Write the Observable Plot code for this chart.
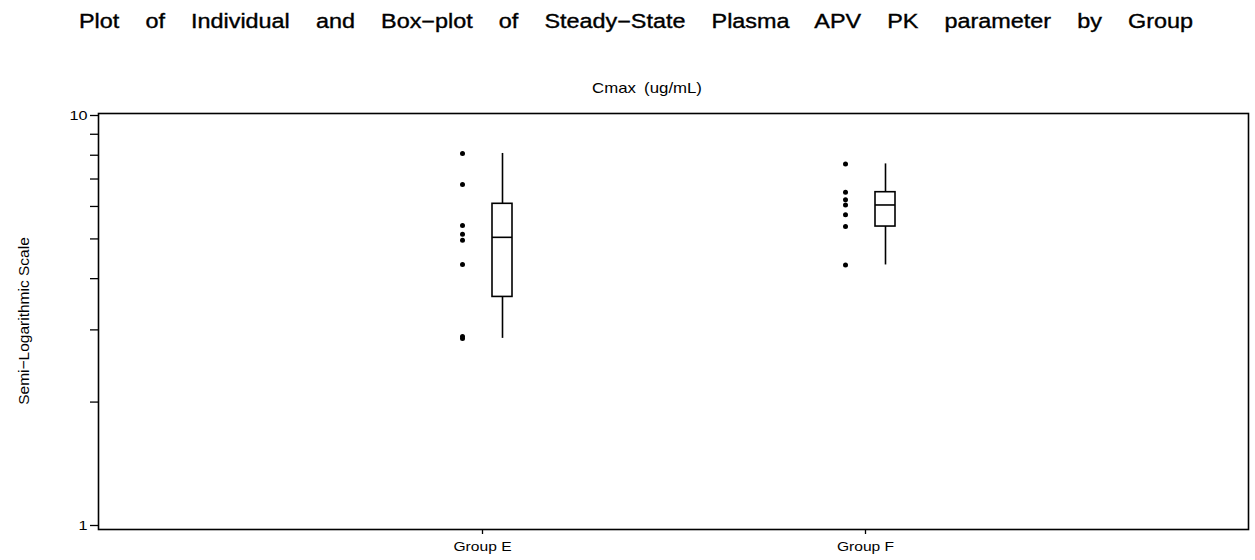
<!DOCTYPE html>
<html>
<head>
<meta charset="utf-8">
<script src="https://cdn.jsdelivr.net/npm/d3@7"></script>
<script src="https://cdn.jsdelivr.net/npm/@observablehq/plot@0.6"></script>
<style>
  html, body { margin: 0; padding: 0; background: white; }
  svg { display: block; }
</style>
</head>
<body>
<div id="chart"></div>
<script>
// ---- Data ----
const groups = ["Group E", "Group F"];
const cmaxGroupE = [8.08, 6.79, 5.39, 5.13, 4.96, 4.33, 2.89, 2.86];
const cmaxGroupF = [7.62, 6.50, 6.23, 6.05, 5.73, 5.36, 4.32];
const yTickValues = [1, 2, 3, 4, 5, 6, 7, 8, 9, 10];
const yTickLabels = [1, 10];

const titleText = "Plot of Individual and Box\u2212plot of Steady\u2212State Plasma APV PK parameter by Group";
const subtitleText = "Cmax (ug/mL)";
const yLabelText = "Semi\u2212Logarithmic Scale";

// ---- Derived tables ----
const seriesByGroup = [cmaxGroupE, cmaxGroupF];
const points = groups.flatMap((g, i) => seriesByGroup[i].map(v => ({group: g, value: v})));

// SAS default percentile definition (PCTLDEF=5)
function sasQuantile(sorted, p) {
  const n = sorted.length, np = n * p, j = Math.floor(np), g = np - j;
  if (g === 0) return (sorted[j - 1] + sorted[j]) / 2;
  return sorted[j];
}
const stats = groups.map((g, i) => {
  const s = seriesByGroup[i].slice().sort((a, b) => a - b);
  return {
    group: g,
    min: s[0],
    q1: sasQuantile(s, 0.25),
    median: sasQuantile(s, 0.5),
    q3: sasQuantile(s, 0.75),
    max: s[s.length - 1]
  };
});

const FONT = "'Liberation Sans', Arial, Helvetica, sans-serif";
const STRETCH = 1.2; // the reference is drawn with horizontally widened glyphs

const chart = Plot.plot({
  width: 1255,
  height: 560,
  marginTop: 113,
  marginBottom: 31,
  marginLeft: 98,
  marginRight: 7,
  style: {fontFamily: FONT, fontSize: "13px", color: "black", background: "white"},
  x: {type: "band", domain: groups, paddingInner: 0.948, paddingOuter: 0.974, label: null},
  y: {type: "log", domain: [1, 10], insetTop: 2, insetBottom: 4, label: null},
  marks: [
    Plot.frame({stroke: "black", strokeWidth: 1.6}),
    Plot.axisY({ticks: yTickValues, tickSize: 8, tickPadding: 3, fontSize: 13.5,
      tickFormat: d => yTickLabels.includes(d) ? String(d) : "", label: null, strokeWidth: 1.3}),
    Plot.axisX({tickSize: 5, tickPadding: 7, label: null, strokeWidth: 1.3}),
    Plot.ruleX(stats, {x: "group", y1: "min", y2: "max", dx: 20, stroke: "black", strokeWidth: 1.6}),
    Plot.barY(stats, {x: "group", y1: "q1", y2: "q3", dx: 20, fill: "white", stroke: "black", strokeWidth: 1.6}),
    Plot.tickY(stats, {x: "group", y: "median", dx: 20, stroke: "black", strokeWidth: 1.6}),
    Plot.dot(points, {x: "group", y: "value", dx: -20, r: 2.5, fill: "black", stroke: null})
  ]
});

document.getElementById("chart").appendChild(chart);

// Stretch axis tick labels horizontally, like the reference's wide Helvetica
d3.select(chart).selectAll("g[aria-label$='tick label'] text").each(function() {
  const t = this.getAttribute("transform");
  if (t) this.setAttribute("transform", t + ` scale(${STRETCH},1)`);
});

// Title, subtitle and y-axis label
const svg = d3.select(chart);
function addLabel(content, cx, cy, size, target, stretch, rotate, heavy) {
  const el = svg.append("text")
    .attr("text-anchor", "middle")
    .attr("dominant-baseline", "central")
    .attr("font-family", FONT)
    .attr("font-size", size)
    .attr("fill", "black")
    .text(content);
  if (heavy) el.attr("stroke", "black").attr("stroke-width", heavy);
  const w = el.node().getComputedTextLength();
  const spaces = (content.match(/ /g) || []).length;
  const ws = spaces > 0 ? Math.max(0, (target / stretch - w) / spaces) : 0;
  el.style("word-spacing", ws + "px");
  el.attr("transform", `translate(${cx},${cy})${rotate ? ` rotate(${rotate})` : ""} scale(${stretch},1)`);
  return el;
}
addLabel(titleText, 636, 21.5, 19.5, 1115, STRETCH, 0, 0.35);
addLabel(subtitleText, 647, 88, 14, 110, STRETCH, 0, 0);
addLabel(yLabelText, 23, 321, 15.5, 167, 1, -90, 0);
</script>
</body>
</html>
